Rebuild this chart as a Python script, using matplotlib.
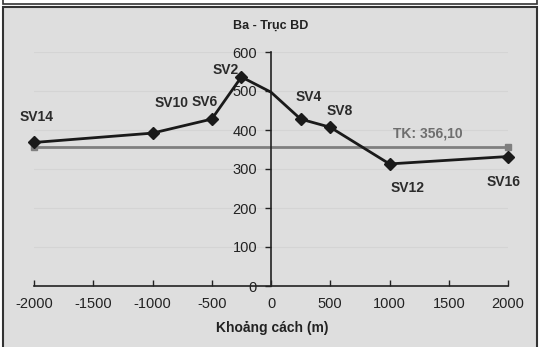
import matplotlib
matplotlib.use("Agg")
import matplotlib.pyplot as plt
from matplotlib.patches import Rectangle

plt.rcParams['font.family'] = ['Liberation Sans', 'DejaVu Sans']
plt.rcParams['axes.unicode_minus'] = False

# Cross-section Ba - Truc BD
distances = [-2000, -1000, -500, -250, 0, 250, 500, 1000, 2000]
elevations = [368, 392, 428, 536, 497, 428, 407, 313, 332]
point_names = ['SV14', 'SV10', 'SV6', 'SV2', '', 'SV4', 'SV8', 'SV12', 'SV16']
label_offsets = [(2, 18), (14, 22), (-5, 12), (-11, 5), (0, 0),
                 (6, 16), (6.5, 12), (13, -17), (-3, -18)]
tk_value = 356.10
tk_range = [-2000, 2000]
x_ticks = [-2000, -1500, -1000, -500, 0, 500, 1000, 1500, 2000]
y_ticks = [0, 100, 200, 300, 400, 500, 600]

W, H = 541, 347
fig = plt.figure(figsize=(W / 100, H / 100), dpi=100)
fig.patch.set_facecolor('white')

# table edge above the chart and the chart frame
fig.patches.append(Rectangle((3 / W, 1 - 4 / H), 534 / W, 10 / H, transform=fig.transFigure,
                             facecolor='white', edgecolor='#333333', lw=1.2, zorder=-10))
fig.patches.append(Rectangle((3 / W, -0.05), 534 / W, 1 - 7 / H + 0.05, transform=fig.transFigure,
                             facecolor='#dedede', edgecolor='#333333', lw=1.5, zorder=-10))

ax = fig.add_axes([34 / W, (H - 286) / H, 474 / W, 234 / H])
ax.set_facecolor('none')
ax.set_xlim(-2000, 2000)
ax.set_ylim(0, 600)

for y in y_ticks[1:]:
    ax.axhline(y, color='#d4d4d4', lw=0.8, zorder=0)

ax.spines['left'].set_position(('data', 0))
ax.spines['top'].set_visible(False)
ax.spines['right'].set_visible(False)
for s in ('left', 'bottom'):
    ax.spines[s].set_color('#222222')
    ax.spines[s].set_linewidth(1.2)

ax.set_xticks(x_ticks)
ax.set_yticks(y_ticks)
ax.tick_params(axis='x', direction='in', length=4, width=1, color='#222222',
               labelsize=10.5, labelcolor='#222222', pad=8)
ax.tick_params(axis='y', direction='out', length=4, width=1, color='#222222',
               labelsize=10.5, labelcolor='#222222', pad=6)

# reference level TK
ax.plot(tk_range, [tk_value, tk_value], color='#7f7f7f', lw=2, marker='s', ms=4,
        mfc='#7f7f7f', mec='#7f7f7f', zorder=2, clip_on=False)
ax.text(1325, 390, 'TK: 356,10', color='#6e6e6e', fontsize=10, fontweight='bold',
        ha='center', va='center')

marked = [i for i, n in enumerate(point_names) if n]
ax.plot(distances, elevations, color='#1a1a1a', lw=2, marker='D', ms=6,
        markevery=marked, zorder=3, clip_on=False)

for x, y, name, off in zip(distances, elevations, point_names, label_offsets):
    if name:
        ax.annotate(name, (x, y), xytext=off, textcoords='offset points',
                    ha='center', va='center', fontsize=10, fontweight='bold',
                    color='#2b2b2b')

fig.text(271 / W, 1 - 26 / H, 'Ba - Trục BD', ha='center', va='center',
         fontsize=9, fontweight='bold', color='#222222')
fig.text(272 / W, 1 - 328 / H, 'Khoảng cách (m)', ha='center', va='center',
         fontsize=10, fontweight='bold', color='#222222')

fig.savefig('out.png', dpi=100)
